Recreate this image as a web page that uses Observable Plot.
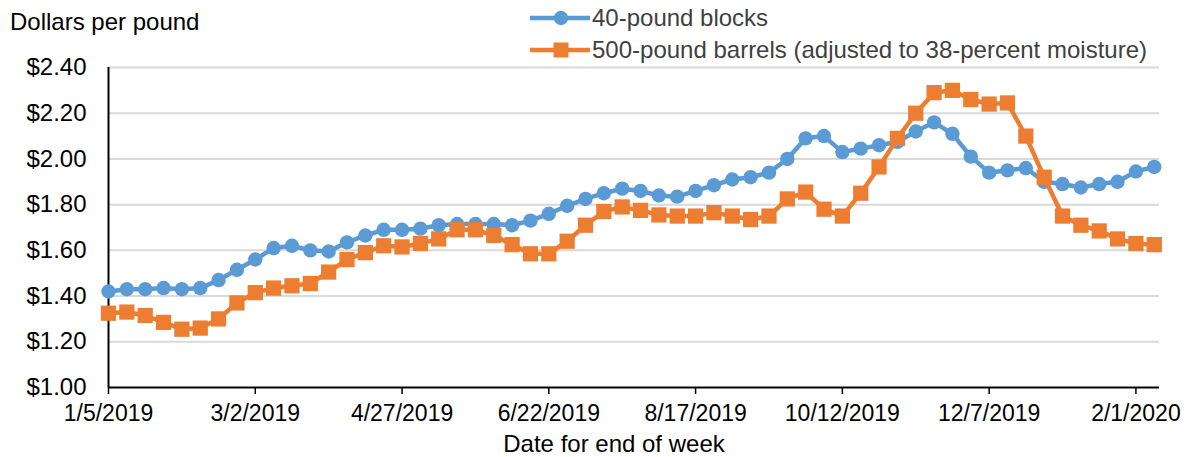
<!DOCTYPE html>
<html><head><meta charset="utf-8">
<script src="https://cdn.jsdelivr.net/npm/d3@7"></script>
<script src="https://cdn.jsdelivr.net/npm/@observablehq/plot@0.6"></script>
<style>
body{margin:0;background:#fff;font-family:"Liberation Sans",Arial,sans-serif;}
#wrap{position:relative;width:1186px;height:457px;overflow:hidden}
#wrap > svg{position:absolute;left:0;top:0}
.lab{position:absolute;font-size:24px;color:#000;white-space:nowrap;line-height:24px}
.leg{color:#404040;display:flex;align-items:center}
.leg svg{margin-right:2px}
</style></head><body>
<div id="wrap"></div>
<script>
const weekEnding = ["2019-01-05","2019-01-12","2019-01-19","2019-01-26","2019-02-02","2019-02-09","2019-02-16","2019-02-23",
"2019-03-02","2019-03-09","2019-03-16","2019-03-23","2019-03-30","2019-04-06","2019-04-13","2019-04-20",
"2019-04-27","2019-05-04","2019-05-11","2019-05-18","2019-05-25","2019-06-01","2019-06-08","2019-06-15",
"2019-06-22","2019-06-29","2019-07-06","2019-07-13","2019-07-20","2019-07-27","2019-08-03","2019-08-10",
"2019-08-17","2019-08-24","2019-08-31","2019-09-07","2019-09-14","2019-09-21","2019-09-28","2019-10-05",
"2019-10-12","2019-10-19","2019-10-26","2019-11-02","2019-11-09","2019-11-16","2019-11-23","2019-11-30",
"2019-12-07","2019-12-14","2019-12-21","2019-12-28","2020-01-04","2020-01-11","2020-01-18","2020-01-25",
"2020-02-01","2020-02-08"];
const blocks = [1.42,1.43,1.43,1.435,1.43,1.435,1.47,1.515,1.56,1.61,
1.62,1.60,1.595,1.635,1.665,1.69,1.69,1.695,1.71,1.715,
1.715,1.715,1.71,1.73,1.76,1.795,1.825,1.85,1.87,1.86,
1.84,1.835,1.86,1.885,1.91,1.92,1.94,2.00,2.09,2.10,
2.03,2.045,2.06,2.075,2.12,2.16,2.11,2.01,1.94,1.95,
1.96,1.90,1.89,1.875,1.89,1.90,1.945,1.965];
const barrels = [1.325,1.33,1.315,1.285,1.255,1.26,1.30,1.37,1.415,1.435,
1.445,1.455,1.505,1.56,1.59,1.62,1.615,1.63,1.65,1.69,
1.69,1.665,1.625,1.585,1.585,1.64,1.71,1.77,1.79,1.775,
1.755,1.75,1.75,1.765,1.75,1.735,1.75,1.825,1.855,1.78,
1.75,1.85,1.965,2.09,2.20,2.29,2.30,2.26,2.24,2.245,
2.10,1.92,1.75,1.71,1.685,1.65,1.63,1.625];
const seriesNames = ["40-pound blocks","500-pound barrels (adjusted to 38-percent moisture)"];
const seriesColors = ["#5B9BD5","#ED7D31"];
const xTickLabels = ["2019-01-05","2019-03-02","2019-04-27","2019-06-22","2019-08-17","2019-10-12","2019-12-07","2020-02-01"];
const yTicks = [1.0,1.2,1.4,1.6,1.8,2.0,2.2,2.4];

const parse = d3.utcParse("%Y-%m-%d");
const blockData = weekEnding.map((d,i)=>({date:parse(d), v:blocks[i]}));
const barrelData = weekEnding.map((d,i)=>({date:parse(d), v:barrels[i]}));
const xStart = parse(weekEnding[0]);
const xEnd = d3.utcDay.offset(parse(weekEnding[weekEnding.length-1]), 2);
const fmtDate = d => `${d.getUTCMonth()+1}/${d.getUTCDate()}/${d.getUTCFullYear()}`;

const chart = Plot.plot({
  width: 1186, height: 457,
  marginLeft: 108, marginRight: 27, marginTop: 67, marginBottom: 70,
  style: {fontFamily: '"Liberation Sans", Arial, sans-serif', fontSize: "24px", color: "#000", background: "transparent"},
  x: {type: "utc", domain: [xStart, xEnd]},
  y: {domain: [1.0, 2.4]},
  marks: [
    Plot.ruleY(yTicks.filter(t => t > 1), {stroke: "#d9d9d9", strokeWidth: 2}),
    Plot.axisY({ticks: yTicks, tickSize: 0, tickPadding: 22, tickFormat: d => "$" + d.toFixed(2), fontSize: 24, label: null}),
    Plot.axisX({ticks: xTickLabels.map(parse), tickSize: 7, tickPadding: 10, tickFormat: fmtDate, fontSize: 23, label: null, stroke: "#000", strokeWidth: 1.5}),
    Plot.ruleY([1.0], {stroke: "#000", strokeWidth: 2}),
    Plot.ruleX([xStart], {stroke: "#000", strokeWidth: 2}),
    Plot.line(blockData, {x: "date", y: "v", stroke: seriesColors[0], strokeWidth: 4.5}),
    Plot.dot(blockData, {x: "date", y: "v", fill: seriesColors[0], r: 7.2, symbol: "circle"}),
    Plot.line(barrelData, {x: "date", y: "v", stroke: seriesColors[1], strokeWidth: 4.5}),
    Plot.dot(barrelData, {x: "date", y: "v", fill: seriesColors[1], r: 8.6, symbol: "square"}),
    Plot.text(["Date for end of week"], {frameAnchor: "bottom", dx: -20, dy: 64, fontSize: 24})
  ]
});
const wrap = document.getElementById("wrap");
wrap.appendChild(chart);

const ylab = document.createElement("div");
ylab.className = "lab"; ylab.style.left = "10px"; ylab.style.top = "10px";
ylab.textContent = "Dollars per pound";
wrap.appendChild(ylab);

const legTops = [6, 38];
seriesNames.forEach((name, i) => {
  const div = document.createElement("div");
  div.className = "lab leg";
  div.style.left = "530px"; div.style.top = legTops[i] + "px";
  const marker = i === 0
    ? `<circle cx="31" cy="12" r="7.2" fill="${seriesColors[i]}"/>`
    : `<rect x="23.5" y="4.5" width="15" height="15" fill="${seriesColors[i]}"/>`;
  div.innerHTML = `<svg width="60" height="24"><line x1="0" x2="60" y1="12" y2="12" stroke="${seriesColors[i]}" stroke-width="4.5"/>${marker}</svg>`;
  div.appendChild(document.createTextNode(name));
  wrap.appendChild(div);
});
</script>
</body></html>
